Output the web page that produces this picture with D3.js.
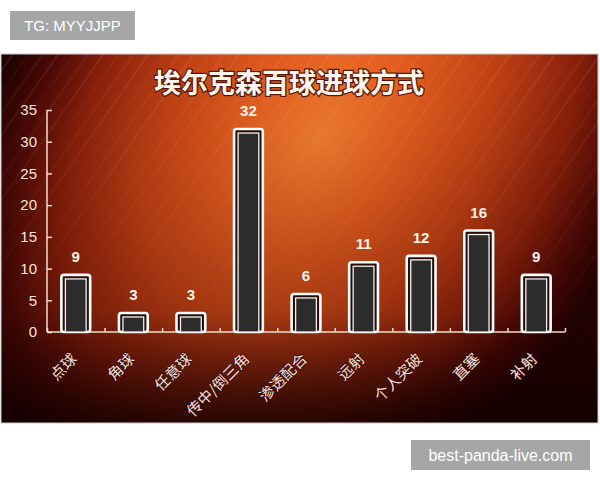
<!DOCTYPE html>
<html lang="zh">
<head>
<meta charset="utf-8">
<title>埃尔克森百球进球方式</title>
<script src="https://cdn.jsdelivr.net/npm/d3@7"></script>
<style>
  body { margin: 0; background: #ffffff; }
  svg { display: block; }
  .tag rect { fill: #a6a6a6; }
  .tag text { fill: #ffffff; font-family: "Liberation Sans", Arial, sans-serif; }
  .axis path, .axis line { stroke: #f4dccd; stroke-width: 1.5; }
  .axis text { fill: #f7e4d6; font-family: "Liberation Sans", Arial, sans-serif; font-size: 15px; }
</style>
</head>
<body>
<script>
// data
const categories = ["点球", "角球", "任意球", "传中/倒三角", "渗透配合", "远射", "个人突破", "直塞", "补射"];
const goals = [9, 3, 3, 32, 6, 11, 12, 16, 9];
const yTicks = [0, 5, 10, 15, 20, 25, 30, 35];
const title = "埃尔克森百球进球方式";

let w = 600;
let h = 480;
let panel = {x: 1, y: 54, w: 597, h: 369};
let plot = {left: 47, right: 565, top: 110, bottom: 332};

let svg = d3.select("body")
  .append("svg")
  .attr("width", w)
  .attr("height", h);

let defs = svg.append("defs");

// background of the slide: orange glow stretched along the diagonal, dark edges
let glow = defs.append("radialGradient")
  .attr("id", "glow")
  .attr("gradientUnits", "userSpaceOnUse")
  .attr("cx", 0).attr("cy", 0).attr("r", 270)
  .attr("gradientTransform", "translate(320,140) rotate(-55) scale(1.6,1.15)");
[[0, "#f58030"], [0.25, "#e45e1f"], [0.5, "#c04014"], [0.72, "#8a200b"], [0.88, "#4a0805"], [1, "#200202"]]
  .forEach(s => glow.append("stop").attr("offset", s[0]).attr("stop-color", s[1]));

let shade = defs.append("linearGradient")
  .attr("id", "shade")
  .attr("x1", 0).attr("y1", 0).attr("x2", 0).attr("y2", 1);
shade.append("stop").attr("offset", 0).attr("stop-color", "#200101").attr("stop-opacity", 0);
shade.append("stop").attr("offset", 0.7).attr("stop-color", "#200101").attr("stop-opacity", 0.2);
shade.append("stop").attr("offset", 1).attr("stop-color", "#100000").attr("stop-opacity", 0.8);

// thin diagonal streaks
let streak = defs.append("pattern")
  .attr("id", "streak")
  .attr("patternUnits", "userSpaceOnUse")
  .attr("width", 37).attr("height", 60)
  .attr("patternTransform", "rotate(35)");
streak.append("rect").attr("x", 4).attr("width", 1.5).attr("height", 60).attr("fill", "#ffc89a").attr("opacity", 0.12);
streak.append("rect").attr("x", 17).attr("width", 0.8).attr("height", 60).attr("fill", "#ffc89a").attr("opacity", 0.08);
streak.append("rect").attr("x", 28).attr("width", 2.5).attr("height", 60).attr("fill", "#ffc89a").attr("opacity", 0.06);

let fade = defs.append("linearGradient")
  .attr("id", "fade")
  .attr("x1", 0).attr("y1", 0).attr("x2", 0).attr("y2", 1);
fade.append("stop").attr("offset", 0).attr("stop-color", "#fff").attr("stop-opacity", 1);
fade.append("stop").attr("offset", 0.65).attr("stop-color", "#fff").attr("stop-opacity", 0.3);
fade.append("stop").attr("offset", 1).attr("stop-color", "#fff").attr("stop-opacity", 0);
defs.append("mask").attr("id", "fadeMask")
  .append("rect")
  .attr("x", panel.x).attr("y", panel.y).attr("width", panel.w).attr("height", panel.h)
  .attr("fill", "url(#fade)");

svg.append("rect")
  .attr("x", panel.x).attr("y", panel.y).attr("width", panel.w).attr("height", panel.h)
  .attr("fill", "url(#glow)");
svg.append("rect")
  .attr("x", panel.x).attr("y", panel.y).attr("width", panel.w).attr("height", panel.h)
  .attr("fill", "url(#streak)")
  .attr("mask", "url(#fadeMask)");
svg.append("rect")
  .attr("x", panel.x).attr("y", panel.y).attr("width", panel.w).attr("height", panel.h)
  .attr("fill", "url(#shade)");
svg.append("rect")
  .attr("x", panel.x).attr("y", panel.y).attr("width", panel.w).attr("height", panel.h)
  .attr("fill", "none")
  .attr("stroke", "#c9c9c9")
  .attr("stroke-width", 1);

// title
svg.append("text")
  .attr("x", 289)
  .attr("y", 93)
  .attr("text-anchor", "middle")
  .attr("font-family", "'Noto Sans CJK SC', sans-serif")
  .attr("font-weight", "bold")
  .attr("font-size", 27)
  .attr("fill", "#fff6ee")
  .attr("stroke", "#5a1606")
  .attr("stroke-width", 2.5)
  .attr("paint-order", "stroke")
  .text(title);

let xScale = d3.scaleBand()
  .domain(categories)
  .range([plot.left, plot.right])
  .paddingInner(0.5)
  .paddingOuter(0.25);

let edgeScale = d3.scaleLinear()
  .domain([0, categories.length])
  .range([plot.left, plot.right]);

let yScale = d3.scaleLinear()
  .domain([0, 35])
  .range([plot.bottom, plot.top]);

let yAxis = d3.axisLeft(yScale)
  .tickValues(yTicks)
  .tickSize(-5)
  .tickPadding(10);

svg.append("g")
  .attr("class", "axis")
  .attr("transform", "translate(" + plot.left + ",0)")
  .call(yAxis)
  .call(g => g.select(".domain").attr("d", "M0," + plot.top + "V" + plot.bottom));

let xAxis = d3.axisBottom(edgeScale)
  .tickValues(d3.range(categories.length + 1))
  .tickSize(-4)
  .tickFormat("");

svg.append("g")
  .attr("class", "axis")
  .attr("transform", "translate(0," + plot.bottom + ")")
  .call(xAxis)
  .call(g => g.select(".domain").attr("d", "M" + plot.left + ",0H" + plot.right));

// bars: white frame, dark gap, thin inner white line, dark fill
let bars = svg.selectAll(".bar")
  .data(goals)
  .enter()
  .append("g")
  .attr("class", "bar");

bars.append("rect")
  .attr("x", (d, i) => xScale(categories[i]))
  .attr("y", d => yScale(d))
  .attr("width", xScale.bandwidth())
  .attr("height", d => yScale(0) - yScale(d))
  .attr("rx", 2.5)
  .attr("fill", "#2a0a06")
  .attr("stroke", "#ffffff")
  .attr("stroke-width", 2.6);

bars.append("rect")
  .attr("x", (d, i) => xScale(categories[i]) + 4)
  .attr("y", d => yScale(d) + 4)
  .attr("width", xScale.bandwidth() - 8)
  .attr("height", d => yScale(0) - yScale(d) - 4)
  .attr("fill", "#2c2c2c")
  .attr("stroke", "#f2f2f2")
  .attr("stroke-width", 1.3);

// value labels
svg.selectAll(".value")
  .data(goals)
  .enter()
  .append("text")
  .attr("class", "value")
  .attr("x", (d, i) => xScale(categories[i]) + xScale.bandwidth() / 2)
  .attr("y", d => yScale(d) - 13)
  .attr("text-anchor", "middle")
  .attr("font-family", "'Liberation Sans', Arial, sans-serif")
  .attr("font-weight", "bold")
  .attr("font-size", 15)
  .attr("fill", "#fff4ea")
  .text(d => d);

// rotated category labels
svg.selectAll(".cat")
  .data(categories)
  .enter()
  .append("text")
  .attr("class", "cat")
  .attr("transform", d => "translate(" + (xScale(d) + xScale.bandwidth() / 2 + 2) + "," + (plot.bottom + 28) + ") rotate(-45)")
  .attr("text-anchor", "end")
  .attr("font-family", "'Noto Sans CJK SC', sans-serif")
  .attr("font-size", 15)
  .attr("fill", "#f6e2dc")
  .attr("stroke", "#3a0604")
  .attr("stroke-width", 1.5)
  .attr("paint-order", "stroke")
  .text(d => d);

// watermark tags
function tag(x, y, bw, bh, label, size) {
  let g = svg.append("g").attr("class", "tag");
  g.append("rect").attr("x", x).attr("y", y).attr("width", bw).attr("height", bh);
  g.append("text")
    .attr("x", x + bw / 2)
    .attr("y", y + bh / 2)
    .attr("dy", "0.35em")
    .attr("text-anchor", "middle")
    .attr("font-size", size)
    .text(label);
}
tag(10, 11, 125, 29, "TG: MYYJJPP", 15);
tag(411, 440, 179, 30, "best-panda-live.com", 16);
</script>
</body>
</html>
